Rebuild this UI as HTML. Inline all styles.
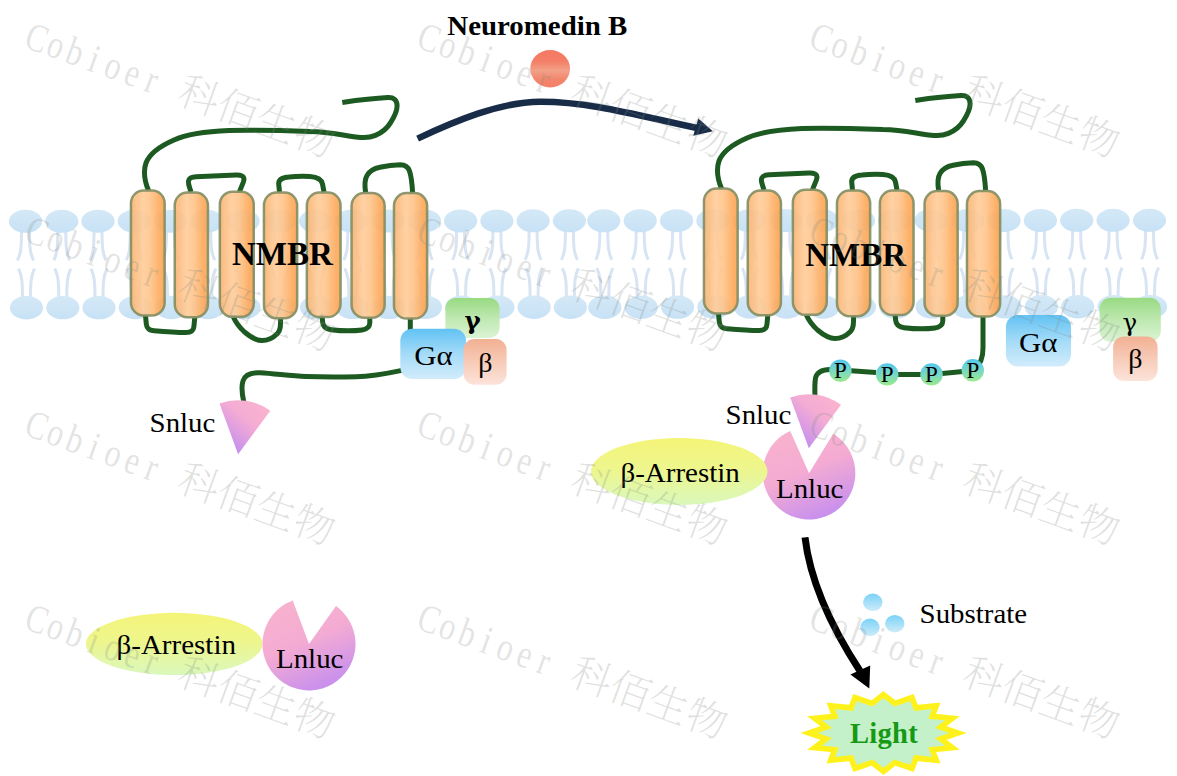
<!DOCTYPE html>
<html lang="en"><head><meta charset="utf-8"><title>NMBR beta-Arrestin NanoBiT assay</title>
<style>
html,body{margin:0;padding:0;background:#fff;}
body{width:1177px;height:776px;overflow:hidden;position:relative;}
svg{position:absolute;left:0;top:0;display:block;}
.t{font-family:"Liberation Serif","Noto Serif CJK SC",serif;fill:#000;}
.b{font-weight:bold;}
.dj{font-family:"DejaVu Serif","Liberation Serif",serif;fill:#000;}
.wm{fill:#7f887f;fill-opacity:.25;}
.wml{font-family:"Liberation Serif","Noto Serif CJK SC",serif;fill-opacity:.23;}
.wmc{font-family:"Noto Serif CJK SC","Liberation Serif",serif;font-weight:200;}
</style></head><body>
<svg width="1177" height="776" viewBox="0 0 1177 776">
<defs>
<linearGradient id="gHelix" x1="0" y1="0" x2="1" y2="0">
<stop offset="0" stop-color="#fab371"/><stop offset=".36" stop-color="#ffcc99"/><stop offset=".58" stop-color="#ffc388"/><stop offset=".85" stop-color="#fdaa5c"/><stop offset="1" stop-color="#fba24c"/>
</linearGradient>
<linearGradient id="gHead" x1="0" y1="0" x2="0" y2="1">
<stop offset="0" stop-color="#d4e9f7"/><stop offset="1" stop-color="#c7e1f5"/>
</linearGradient>
<linearGradient id="gGa" x1="0" y1="0" x2="0" y2="1">
<stop offset="0" stop-color="#62c2f3"/><stop offset=".5" stop-color="#a4dbf8"/><stop offset="1" stop-color="#d2ecfb"/>
</linearGradient>
<linearGradient id="gGg" x1="0" y1="0" x2="0" y2="1">
<stop offset="0" stop-color="#98da82"/><stop offset=".5" stop-color="#bee8b0"/><stop offset="1" stop-color="#dcf3d5"/>
</linearGradient>
<linearGradient id="gGb" x1="0" y1="0" x2="0" y2="1">
<stop offset="0" stop-color="#f2b092"/><stop offset=".5" stop-color="#f7cbb8"/><stop offset="1" stop-color="#fce3da"/>
</linearGradient>
<linearGradient id="gRed" x1="0" y1="0" x2="0" y2="1">
<stop offset="0" stop-color="#f47862"/><stop offset=".3" stop-color="#f47e66"/><stop offset=".55" stop-color="#f2a088"/><stop offset=".8" stop-color="#f3846c"/><stop offset="1" stop-color="#f47e66"/>
</linearGradient>
<linearGradient id="gP" x1="0" y1="0" x2="0" y2="1">
<stop offset="0" stop-color="#56c6ee"/><stop offset=".5" stop-color="#78d8c4"/><stop offset="1" stop-color="#9aea8c"/>
</linearGradient>
<linearGradient id="gArr" x1="0" y1="0" x2="0" y2="1">
<stop offset="0" stop-color="#f4f478"/><stop offset=".45" stop-color="#eef68c"/><stop offset="1" stop-color="#daf8bc"/>
</linearGradient>
<linearGradient id="gSn" x1=".85" y1=".1" x2=".2" y2=".9">
<stop offset="0" stop-color="#f9b2cf"/><stop offset=".4" stop-color="#f4acd4"/><stop offset="1" stop-color="#c48df0"/>
</linearGradient>
<linearGradient id="gLn" x1=".3" y1=".1" x2=".7" y2="1">
<stop offset="0" stop-color="#f8b0cf"/><stop offset=".4" stop-color="#f3abd3"/><stop offset="1" stop-color="#c48df0"/>
</linearGradient>
<linearGradient id="gSub" x1="0" y1="0" x2="0" y2="1">
<stop offset="0" stop-color="#7cd2f8"/><stop offset="1" stop-color="#cdebf9"/>
</linearGradient>

<g id="lipT">
<path d="M-4 9 C-4 26,-4.6 32,-8 39 M4 9 C4 26,4.6 32,8 39" fill="none" stroke="#d8e4f3" stroke-width="3" stroke-linecap="butt"/>
<ellipse cx="0" cy="0" rx="16.6" ry="11.5" fill="url(#gHead)"/>
</g>
<g id="lipB">
<path d="M-4 -9 C-4 -26,-4.6 -32,-8 -39 M4 -9 C4 -26,4.6 -32,8 -39" fill="none" stroke="#d8e4f3" stroke-width="3" stroke-linecap="butt"/>
<ellipse cx="0" cy="0" rx="16.6" ry="11.7" fill="url(#gHead)"/>
</g>

<g id="rec">
<g fill="none" stroke="#1d5a22" stroke-width="5" stroke-linecap="butt" stroke-linejoin="round">
<path d="M342.3 102.4 C355 100.6,372 98.4,388 97.6 C393.6 97.3,397 100,397.1 105.6 C397.2 111.5,393.8 117.6,390.6 122.6 C387 128.6,382 132.6,375.4 135.4 C371 137.2,366 137.7,361.3 137.4 C346 136.4,332 131.6,310 131.5 C280 130.5,255 130,229 130.5 C205 131.5,187 134,174 140 C158 147,149 155,146 163 C142.5 173,145 182,148.6 190.8"/>
<path d="M191 192 C189 186,187.6 182,188.8 180 C190 177.5,192 177,196 176.8 L236 175 C241 174.8,244 176,244 179.5 C243.5 183,241 187,239.5 192"/>
<path d="M279.5 192 L278.7 184 C278.5 180,282 177.5,289 177 C296 176.3,303 176.2,310 176.5 C318 177,321.5 179.5,322.5 184 L324 192"/>
<path d="M365.6 192.5 C364.6 186,364.3 180,367 175.5 C370 170.5,374 168.5,380 167.3 C387 165.8,394 165,400.4 164.8 C405 164.8,407.8 166.5,409.5 171 C411.5 177,412.2 185,412.6 192.5"/>
<path d="M145.5 315.5 L146.3 324 C146.8 328.5,149 330.3,154 330.7 C165 331.6,176 332.4,186 332.6 C191.5 332.6,193.6 330.5,194 326 L194.8 317"/>
<path d="M233.4 317 C235.8 322.5,239 327,244.5 332 C250.5 337,256 340.6,262 340.6 C268 340.6,273.5 337.5,277.5 333.5 C280.3 330.5,280.6 327,280.6 318"/>
<path d="M322.2 317 L322.6 322 C323 326.5,326 329,331 329.7 C343 331.2,353 331.2,362 330 C367 329.3,369.6 327,369.8 323 L369.8 317.5"/>
</g>
<rect x="130.95" y="190.45" width="33.70" height="125.00" rx="12.5" ry="13" fill="url(#gHelix)" fill-opacity=".9" stroke="#848f64" stroke-width="2.5" stroke-opacity=".92"/>
<rect x="174.75" y="192.45" width="33.20" height="124.70" rx="12.5" ry="13" fill="url(#gHelix)" fill-opacity=".9" stroke="#848f64" stroke-width="2.5" stroke-opacity=".92"/>
<rect x="219.85" y="191.65" width="33.90" height="125.20" rx="12.5" ry="13" fill="url(#gHelix)" fill-opacity=".9" stroke="#848f64" stroke-width="2.5" stroke-opacity=".92"/>
<rect x="263.95" y="192.45" width="33.20" height="125.70" rx="12.5" ry="13" fill="url(#gHelix)" fill-opacity=".9" stroke="#848f64" stroke-width="2.5" stroke-opacity=".92"/>
<rect x="306.85" y="192.45" width="33.70" height="124.60" rx="12.5" ry="13" fill="url(#gHelix)" fill-opacity=".9" stroke="#848f64" stroke-width="2.5" stroke-opacity=".92"/>
<rect x="351.55" y="193.05" width="33.10" height="124.60" rx="12.5" ry="13" fill="url(#gHelix)" fill-opacity=".9" stroke="#848f64" stroke-width="2.5" stroke-opacity=".92"/>
<rect x="393.95" y="193.05" width="33.20" height="125.50" rx="12.5" ry="13" fill="url(#gHelix)" fill-opacity=".9" stroke="#848f64" stroke-width="2.5" stroke-opacity=".92"/>
</g>
</defs>
<use href="#lipT" x="25.5" y="221.30"/><use href="#lipB" x="26.5" y="307.70"/>
<use href="#lipT" x="61.8" y="221.27"/><use href="#lipB" x="62.8" y="307.67"/>
<use href="#lipT" x="98.0" y="221.24"/><use href="#lipB" x="99.0" y="307.64"/>
<use href="#lipT" x="134.3" y="221.20"/><use href="#lipB" x="135.3" y="307.60"/>
<use href="#lipT" x="170.5" y="221.17"/><use href="#lipB" x="171.5" y="307.57"/>
<use href="#lipT" x="206.8" y="221.14"/><use href="#lipB" x="207.8" y="307.54"/>
<use href="#lipT" x="243.1" y="221.11"/><use href="#lipB" x="244.1" y="307.51"/>
<use href="#lipT" x="279.3" y="221.07"/><use href="#lipB" x="280.3" y="307.47"/>
<use href="#lipT" x="315.6" y="221.04"/><use href="#lipB" x="316.6" y="307.44"/>
<use href="#lipT" x="351.8" y="221.01"/><use href="#lipB" x="352.8" y="307.41"/>
<use href="#lipT" x="388.1" y="220.98"/><use href="#lipB" x="389.1" y="307.38"/>
<use href="#lipT" x="424.4" y="220.95"/><use href="#lipB" x="425.4" y="307.35"/>
<use href="#lipT" x="460.6" y="220.91"/><use href="#lipB" x="461.6" y="307.31"/>
<use href="#lipT" x="496.9" y="220.88"/><use href="#lipB" x="497.9" y="307.28"/>
<use href="#lipT" x="533.1" y="220.85"/><use href="#lipB" x="534.1" y="307.25"/>
<use href="#lipT" x="569.4" y="220.82"/><use href="#lipB" x="570.4" y="307.22"/>
<use href="#lipT" x="603.8" y="220.78"/><use href="#lipB" x="604.8" y="307.18"/>
<use href="#lipT" x="640.2" y="220.75"/><use href="#lipB" x="641.2" y="307.15"/>
<use href="#lipT" x="676.6" y="220.72"/><use href="#lipB" x="677.6" y="307.12"/>
<use href="#lipT" x="712.9" y="220.69"/><use href="#lipB" x="713.9" y="307.09"/>
<use href="#lipT" x="749.3" y="220.65"/><use href="#lipB" x="750.3" y="307.05"/>
<use href="#lipT" x="785.7" y="220.62"/><use href="#lipB" x="786.7" y="307.02"/>
<use href="#lipT" x="822.1" y="220.59"/><use href="#lipB" x="823.1" y="306.99"/>
<use href="#lipT" x="858.5" y="220.56"/><use href="#lipB" x="859.5" y="306.96"/>
<use href="#lipT" x="894.8" y="220.53"/><use href="#lipB" x="895.8" y="306.93"/>
<use href="#lipT" x="931.2" y="220.49"/><use href="#lipB" x="932.2" y="306.89"/>
<use href="#lipT" x="967.6" y="220.46"/><use href="#lipB" x="968.6" y="306.86"/>
<use href="#lipT" x="1004.0" y="220.43"/><use href="#lipB" x="1005.0" y="306.83"/>
<use href="#lipT" x="1040.4" y="220.40"/><use href="#lipB" x="1041.4" y="306.80"/>
<use href="#lipT" x="1076.7" y="220.36"/><use href="#lipB" x="1077.7" y="306.76"/>
<use href="#lipT" x="1113.1" y="220.33"/><use href="#lipB" x="1114.1" y="306.73"/>
<use href="#lipT" x="1149.5" y="220.30"/><use href="#lipB" x="1150.5" y="306.70"/>
<path d="M410.3 318.5 L410.3 335 M402 370.4 C385 374,370 376.5,356 376.8 C340 377.2,322 377.2,306 376.6 C290 376,275 373.6,260 372.8 C251 372.4,245 375,243 381 C241 387,242 394,243.8 402" fill="none" stroke="#1d5a22" stroke-width="5"/>
<use href="#rec"/>
<text class="t b" x="232" y="264.9" font-size="33">NMBR</text>
<rect x="445.4" y="298" width="54.2" height="40" rx="10" fill="url(#gGg)"/>
<rect x="400.3" y="328.7" width="65.7" height="50.3" rx="12" fill="url(#gGa)"/>
<rect x="463.5" y="339" width="43.1" height="45.7" rx="11" fill="url(#gGb)"/>
<text class="t" x="414.2" y="364.8" font-size="28" textLength="38.4" lengthAdjust="spacingAndGlyphs">Gα</text>
<text x="472.5" y="329" font-size="24.5" text-anchor="middle" class="dj b">γ</text>
<text class="t" x="485.4" y="371.8" font-size="28" text-anchor="middle">β</text>
<path d="M238.1 454.2 L219.5 403.5 A54 54 0 0 1 270.3 410.8 Z" fill="url(#gSn)"/>
<text class="t" x="149.6" y="431.6" font-size="28.2" textLength="65.8" lengthAdjust="spacingAndGlyphs">Snluc</text>
<ellipse cx="174.2" cy="643.9" rx="88.3" ry="31.1" fill="url(#gArr)"/>
<path d="M309.0 644.0 L336.0 606.1 A46.5 46.5 0 1 1 292.7 600.4 Z" fill="url(#gLn)"/>
<text class="t" x="116.5" y="653.5" font-size="28.2" textLength="119.5" lengthAdjust="spacingAndGlyphs">β-Arrestin</text>
<text class="t" x="276" y="668.4" font-size="28.2" textLength="67.4" lengthAdjust="spacingAndGlyphs">Lnluc</text>
<text class="t b" x="447.3" y="34.7" font-size="27.8" textLength="180" lengthAdjust="spacingAndGlyphs">Neuromedin B</text>
<ellipse cx="550.15" cy="68.7" rx="19.9" ry="18.7" fill="url(#gRed)"/>
<path d="M417.6 138.6 C455 121,500 102,540 101.7 C590 101.5,640 116,697 128" fill="none" stroke="#182c48" stroke-width="6.5"/>
<path d="M698.3 118.6 L712.9 131.3 L693.2 135.8 Z" fill="#182c48"/>
<path d="M983 316.5 L983 348 C983 358,981 364,975 368 M963 371.5 L942 373.5 M921 374.5 L897 374.5 M876 372.5 L851 370.8 M830 369.6 C822 369.8,817 372,815.5 378 C814.5 384,814.8 390,815 397" fill="none" stroke="#1d5a22" stroke-width="5"/>
<use href="#rec" x="573" y="-2"/>
<text class="t b" x="805.2" y="265.6" font-size="33">NMBR</text>
<circle cx="840.4" cy="370.7" r="11.2" fill="url(#gP)"/>
<text class="t" x="840.4" y="378.3" font-size="23" text-anchor="middle">P</text>
<circle cx="887.2" cy="374.4" r="11.2" fill="url(#gP)"/>
<text class="t" x="887.2" y="382.0" font-size="23" text-anchor="middle">P</text>
<circle cx="931.5" cy="374.4" r="11.2" fill="url(#gP)"/>
<text class="t" x="931.5" y="382.0" font-size="23" text-anchor="middle">P</text>
<circle cx="972.8" cy="370.3" r="11.2" fill="url(#gP)"/>
<text class="t" x="972.8" y="377.90000000000003" font-size="23" text-anchor="middle">P</text>
<rect x="1005.9" y="315" width="65.1" height="51.6" rx="12" fill="url(#gGa)"/>
<rect x="1099.6" y="297.8" width="61.2" height="44" rx="11" fill="url(#gGg)"/>
<rect x="1113.1" y="336.4" width="44.5" height="44.5" rx="11" fill="url(#gGb)"/>
<text class="t" x="1019.1" y="352.3" font-size="28" textLength="38.4" lengthAdjust="spacingAndGlyphs">Gα</text>
<text x="1129.8" y="330.5" font-size="24.5" text-anchor="middle" class="dj">γ</text>
<text class="t" x="1135.4" y="368.2" font-size="28" text-anchor="middle">β</text>
<path d="M809.0 473.2 L833.2 433.7 A46.3 46.3 0 1 1 790.2 430.9 Z" fill="url(#gLn)"/>
<ellipse cx="679.2" cy="471.5" rx="88.3" ry="33.5" fill="url(#gArr)"/>
<path d="M808.8 448.2 L790.2 397.5 A54 54 0 0 1 841.0 404.8 Z" fill="url(#gSn)"/>
<text class="t" x="725.6" y="424.3" font-size="28.2" textLength="65.8" lengthAdjust="spacingAndGlyphs">Snluc</text>
<text class="t" x="620.4" y="481.7" font-size="28.2" textLength="119.5" lengthAdjust="spacingAndGlyphs">β-Arrestin</text>
<text class="t" x="776" y="498" font-size="28.2" textLength="67.4" lengthAdjust="spacingAndGlyphs">Lnluc</text>
<path d="M805 537.4 C810 580,830 625,860 671" fill="none" stroke="#000" stroke-width="7"/>
<path d="M850.4 674.6 L870.2 665.4 L869.3 688.4 Z" fill="#000"/>
<ellipse cx="872.8" cy="602.3" rx="9.7" ry="8.7" fill="url(#gSub)"/>
<ellipse cx="870" cy="627.3" rx="9.7" ry="8.7" fill="url(#gSub)"/>
<ellipse cx="894.8" cy="623.7" rx="9.7" ry="8.7" fill="url(#gSub)"/>
<text class="t" x="919.6" y="622.5" font-size="28.2" textLength="107.5" lengthAdjust="spacingAndGlyphs">Substrate</text>
<polygon points="883.5,694.6 894.9,703.4 912.0,697.5 916.0,707.9 936.3,705.8 932.2,716.3 952.4,718.3 940.9,727.1 958.1,733.0 940.9,738.9 952.4,747.7 932.2,749.7 936.3,760.2 916.0,758.1 912.0,768.5 894.9,762.6 883.5,771.4 872.1,762.6 855.0,768.5 851.0,758.1 830.7,760.2 834.8,749.7 814.6,747.7 826.1,738.9 808.9,733.0 826.1,727.1 814.6,718.3 834.8,716.3 830.7,705.8 851.0,707.9 855.0,697.5 872.1,703.4" fill="#c4f1c9" stroke="#fff21c" stroke-width="5.6" stroke-linejoin="miter" stroke-miterlimit="10"/>
<text class="t b" x="850" y="742.8" font-size="28.6" letter-spacing=".25" fill="#1a9a16" style="fill:#169a14">Light</text>
<g class="wm" transform="translate(22.0 46.5) rotate(20)"><text class="wml" transform="scale(0.8 1)" x="14.0 39.5 65.0 90.5 116.0 141.5 167.0" y="0" font-size="40" text-anchor="middle">Cobioer</text><text class="wmc" x="163.2" y="0" font-size="40.8">科佰生物</text></g>
<g class="wm" transform="translate(414.3 46.5) rotate(20)"><text class="wml" transform="scale(0.8 1)" x="14.0 39.5 65.0 90.5 116.0 141.5 167.0" y="0" font-size="40" text-anchor="middle">Cobioer</text><text class="wmc" x="163.2" y="0" font-size="40.8">科佰生物</text></g>
<g class="wm" transform="translate(806.6 46.5) rotate(20)"><text class="wml" transform="scale(0.8 1)" x="14.0 39.5 65.0 90.5 116.0 141.5 167.0" y="0" font-size="40" text-anchor="middle">Cobioer</text><text class="wmc" x="163.2" y="0" font-size="40.8">科佰生物</text></g>
<g class="wm" transform="translate(22.0 240.3) rotate(20)"><text class="wml" transform="scale(0.8 1)" x="14.0 39.5 65.0 90.5 116.0 141.5 167.0" y="0" font-size="40" text-anchor="middle">Cobioer</text><text class="wmc" x="163.2" y="0" font-size="40.8">科佰生物</text></g>
<g class="wm" transform="translate(414.3 240.3) rotate(20)"><text class="wml" transform="scale(0.8 1)" x="14.0 39.5 65.0 90.5 116.0 141.5 167.0" y="0" font-size="40" text-anchor="middle">Cobioer</text><text class="wmc" x="163.2" y="0" font-size="40.8">科佰生物</text></g>
<g class="wm" transform="translate(806.6 240.3) rotate(20)"><text class="wml" transform="scale(0.8 1)" x="14.0 39.5 65.0 90.5 116.0 141.5 167.0" y="0" font-size="40" text-anchor="middle">Cobioer</text><text class="wmc" x="163.2" y="0" font-size="40.8">科佰生物</text></g>
<g class="wm" transform="translate(22.0 434.1) rotate(20)"><text class="wml" transform="scale(0.8 1)" x="14.0 39.5 65.0 90.5 116.0 141.5 167.0" y="0" font-size="40" text-anchor="middle">Cobioer</text><text class="wmc" x="163.2" y="0" font-size="40.8">科佰生物</text></g>
<g class="wm" transform="translate(414.3 434.1) rotate(20)"><text class="wml" transform="scale(0.8 1)" x="14.0 39.5 65.0 90.5 116.0 141.5 167.0" y="0" font-size="40" text-anchor="middle">Cobioer</text><text class="wmc" x="163.2" y="0" font-size="40.8">科佰生物</text></g>
<g class="wm" transform="translate(806.6 434.1) rotate(20)"><text class="wml" transform="scale(0.8 1)" x="14.0 39.5 65.0 90.5 116.0 141.5 167.0" y="0" font-size="40" text-anchor="middle">Cobioer</text><text class="wmc" x="163.2" y="0" font-size="40.8">科佰生物</text></g>
<g class="wm" transform="translate(22.0 627.9) rotate(20)"><text class="wml" transform="scale(0.8 1)" x="14.0 39.5 65.0 90.5 116.0 141.5 167.0" y="0" font-size="40" text-anchor="middle">Cobioer</text><text class="wmc" x="163.2" y="0" font-size="40.8">科佰生物</text></g>
<g class="wm" transform="translate(414.3 627.9) rotate(20)"><text class="wml" transform="scale(0.8 1)" x="14.0 39.5 65.0 90.5 116.0 141.5 167.0" y="0" font-size="40" text-anchor="middle">Cobioer</text><text class="wmc" x="163.2" y="0" font-size="40.8">科佰生物</text></g>
<g class="wm" transform="translate(806.6 627.9) rotate(20)"><text class="wml" transform="scale(0.8 1)" x="14.0 39.5 65.0 90.5 116.0 141.5 167.0" y="0" font-size="40" text-anchor="middle">Cobioer</text><text class="wmc" x="163.2" y="0" font-size="40.8">科佰生物</text></g>
</svg></body></html>
